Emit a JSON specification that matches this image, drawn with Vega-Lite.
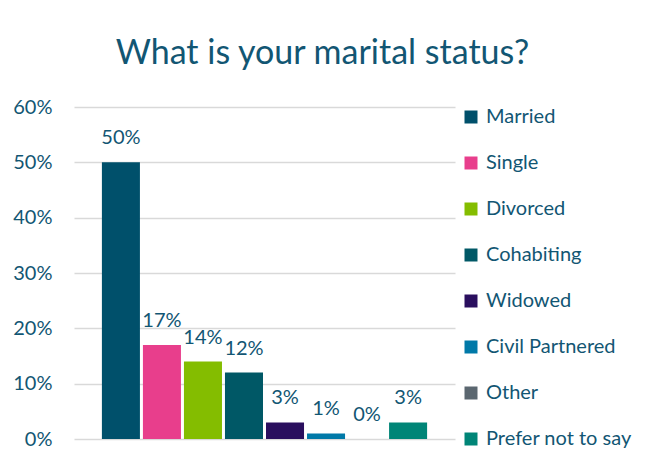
{
  "$schema": "https://vega.github.io/schema/vega-lite/v6.json",
  "autosize": {"type": "none"},
  "padding": {"left": 74, "top": 107, "right": 208, "bottom": 24},
  "width": 381,
  "height": 332,
  "background": "white",
  "title": {
    "text": "What is your marital status?",
    "font": "Lato",
    "fontSize": 34,
    "fontWeight": "normal",
    "color": "#125673",
    "anchor": "middle",
    "frame": "bounds",
    "offset": 26
  },
  "data": {
    "values": [
      {"status": "Married", "share": 0.50},
      {"status": "Single", "share": 0.17},
      {"status": "Divorced", "share": 0.14},
      {"status": "Cohabiting", "share": 0.12},
      {"status": "Widowed", "share": 0.03},
      {"status": "Civil Partnered", "share": 0.01},
      {"status": "Other", "share": 0.0},
      {"status": "Prefer not to say", "share": 0.03}
    ]
  },
  "config": {
    "view": {"stroke": null},
    "font": "Lato"
  },
  "encoding": {
    "x": {
      "field": "status",
      "type": "nominal",
      "sort": null,
      "axis": null,
      "scale": {"paddingInner": 0.073, "paddingOuter": 0.68}
    },
    "y": {
      "field": "share",
      "type": "quantitative",
      "scale": {"domain": [0, 0.6], "nice": false},
      "axis": {
        "title": null,
        "format": ".0%",
        "values": [0, 0.1, 0.2, 0.3, 0.4, 0.5, 0.6],
        "domain": false,
        "ticks": false,
        "tickSize": 0,
        "labelPadding": 22,
        "labelFont": "Lato",
        "labelFontSize": 20,
        "labelColor": "#125673",
        "gridColor": "#D9D9D9",
        "gridWidth": 1.5
      }
    }
  },
  "layer": [
    {
      "mark": {"type": "bar"},
      "encoding": {
        "color": {
          "field": "status",
          "type": "nominal",
          "sort": null,
          "scale": {
            "domain": ["Married", "Single", "Divorced", "Cohabiting", "Widowed", "Civil Partnered", "Other", "Prefer not to say"],
            "range": ["#00506B", "#E83E8C", "#84BD00", "#005866", "#2A0F5E", "#0079A8", "#5B6770", "#008577"]
          },
          "legend": {
            "title": null,
            "orient": "right",
            "offset": 6,
            "symbolType": "square",
            "symbolSize": 169,
            "symbolStrokeWidth": 0,
            "symbolOpacity": 1,
            "labelFont": "Lato",
            "labelFontSize": 20,
            "labelColor": "#125673",
            "labelOffset": 5,
            "rowPadding": 26,
            "labelLimit": 200
          }
        }
      }
    },
    {
      "mark": {
        "type": "text",
        "baseline": "alphabetic",
        "dy": -18,
        "font": "Lato",
        "fontSize": 20,
        "color": "#125673"
      },
      "encoding": {
        "text": {"field": "share", "type": "quantitative", "format": ".0%"}
      }
    }
  ]
}
